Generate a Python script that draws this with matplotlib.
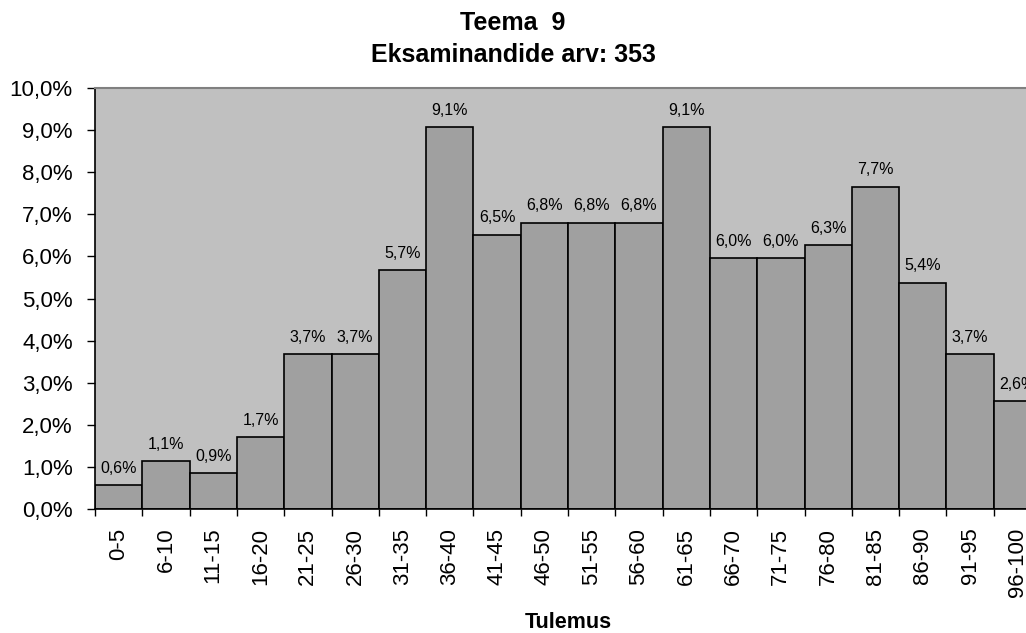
import matplotlib
matplotlib.use("Agg")
import matplotlib.pyplot as plt
from matplotlib.transforms import blended_transform_factory

plt.rcParams['font.family'] = ['Liberation Sans', 'DejaVu Sans']

categories = ['0-5', '6-10', '11-15', '16-20', '21-25', '26-30', '31-35',
              '36-40', '41-45', '46-50', '51-55', '56-60', '61-65', '66-70',
              '71-75', '76-80', '81-85', '86-90', '91-95', '96-100']
# protsent eksaminandidest
values = [0.57, 1.13, 0.86, 1.70, 3.68, 3.68, 5.67, 9.07, 6.52, 6.80,
          6.80, 6.80, 9.07, 5.96, 5.96, 6.27, 7.66, 5.38, 3.68, 2.56]
yticks = [0, 1, 2, 3, 4, 5, 6, 7, 8, 9, 10]


def pct(v, d=1):
    return f"{v:.{d}f}".replace('.', ',') + '%'


fig = plt.figure(figsize=(10.26, 6.33), dpi=100)
# plot area runs past the right edge like in the original
ax = fig.add_axes([95 / 1026, 124 / 633, 946 / 1026, 421 / 633])
ax.set_facecolor('#c0c0c0')

x = list(range(len(categories)))
bars = ax.bar(x, values, width=1.0, color='#a0a0a0', edgecolor='black',
              linewidth=1.2)
for b, v in zip(bars, values):
    ax.text(b.get_x() + b.get_width() / 2, v + 0.22, pct(v),
            ha='center', va='bottom', fontsize=11.5)

ax.set_xlim(-0.5, len(categories) - 0.5)
ax.set_ylim(0, 10)
ax.set_yticks(yticks)
ax.set_yticklabels([pct(t) for t in yticks], fontsize=16)
ax.set_xticks(x)
ax.set_xticklabels(categories, rotation=90, fontsize=16)
ax.set_xticks([i - 0.5 for i in range(len(categories) + 1)], minor=True)
ax.tick_params(axis='x', which='major', length=0, pad=13.5)
ax.tick_params(axis='x', which='minor', length=5, width=1, color='black')
ax.tick_params(axis='y', length=6, width=1, pad=10)

ax.spines['right'].set_visible(False)
ax.spines['top'].set_color('#808080')
ax.spines['top'].set_linewidth(1.5)
ax.spines['left'].set_linewidth(1.2)
ax.spines['bottom'].set_linewidth(1.2)

fig.text(0.5, 0.964, 'Teema  9', ha='center', va='center',
         fontsize=18, fontweight='bold')
fig.text(0.5, 0.913, 'Eksaminandide arv: 353', ha='center', va='center',
         fontsize=18, fontweight='bold')
# x-telje pealkiri on joonise ala keskel
trans = blended_transform_factory(ax.transAxes, fig.transFigure)
ax.text(0.5, 0.017, 'Tulemus', transform=trans,
        ha='center', va='center', fontsize=15.5, fontweight='bold')

plt.savefig('out.png', dpi=100)
